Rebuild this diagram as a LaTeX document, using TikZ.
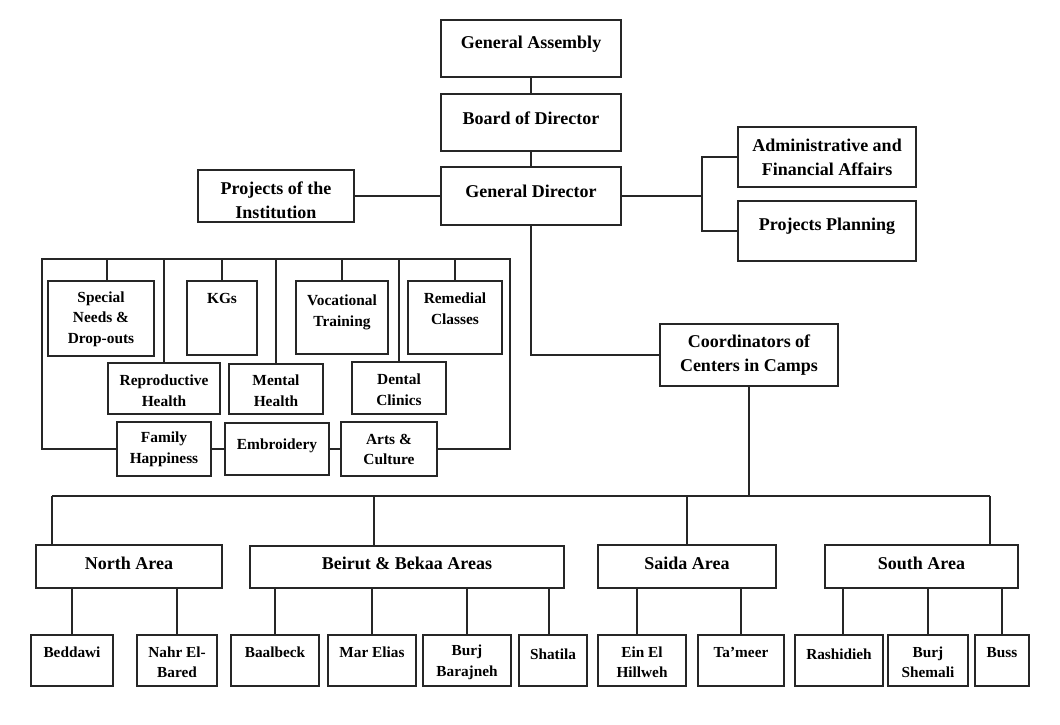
\documentclass[tikz,border=0pt]{standalone}
\usepackage{fontspec}
\setmainfont{Liberation Serif}
\newcommand\bx[8]{%
 \pgfmathsetmacro\bxw{#4-#2}\pgfmathsetmacro\bxh{#5-#3}%
 \pgfmathsetmacro\bxx{(#2+#4)/2}\pgfmathsetmacro\bxy{(#3+#5)/2}%
 \node[boxst, minimum width=\bxw pt, minimum height=\bxh pt] (#1) at (\bxx,\bxy) {};
 \node[txt,#6] (#1t) at (\bxx,#7) {#8};}
\begin{document}
\begin{tikzpicture}[x=1pt,y=-1pt,
  boxst/.style={draw=black!85, line width=1.7pt, inner sep=0pt, outer sep=0pt, fill=white},
  txt/.style={inner sep=0pt, align=center, yshift=-1.5pt},
  big/.style={font=\fontsize{18}{23.5}\selectfont\bfseries},
  mid/.style={font=\fontsize{15.4}{20.7}\selectfont\bfseries},
  sml/.style={font=\fontsize{15.3}{20.5}\selectfont\bfseries},
  ln/.style={draw=black!85, line width=1.7pt}]
\useasboundingbox[fill=white] (0,0) rectangle (1060,724);
% top hierarchy
\bx{GA}{441}{20}{621}{77}{big}{43}{General Assembly}
\bx{BD}{441}{94}{621}{151}{big}{117}{Board of Director}
\bx{GD}{441}{167}{621}{225}{big}{190}{General Director}
\bx{PI}{198}{170}{354}{222}{big}{199}{Projects of the\\Institution}
\bx{AF}{738}{127}{916}{187}{big}{156}{Administrative and\\Financial Affairs}
\bx{PP}{738}{201}{916}{261}{big}{225}{Projects Planning}
\bx{CC}{660}{324}{838}{386}{big}{353.5}{Coordinators of\\Centers in Camps}
% projects frame
\bx{SN}{48}{281}{154}{356}{mid}{317.5}{Special\\Needs \&\\Drop-outs}
\bx{KG}{187}{281}{257}{355}{mid}{297}{KGs}
\bx{VT}{296}{281}{388}{354}{mid}{311}{Vocational\\Training}
\bx{RC}{408}{281}{502}{354}{mid}{307}{Remedial\\Classes}
\bx{RH}{108}{363}{220}{414}{mid}{389.5}{Reproductive\\Health}
\bx{MH}{229}{364}{323}{414}{mid}{389.5}{Mental\\Health}
\bx{DC}{352}{362}{446}{414}{mid}{388}{Dental\\Clinics}
\bx{FH}{117}{422}{211}{476}{mid}{448}{Family\\Happiness}
\bx{EM}{225}{423}{329}{475}{mid}{444}{Embroidery}
\bx{AC}{341}{422}{437}{476}{mid}{448}{Arts \&\\Culture}
% areas
\bx{NA}{36}{545}{222}{588}{big}{562}{North Area}
\bx{BB}{250}{546}{564}{588}{big}{562}{Beirut \& Bekaa Areas}
\bx{SA}{598}{545}{776}{588}{big}{562}{Saida Area}
\bx{SO}{825}{545}{1018}{588}{big}{562}{South Area}
% camps
\bx{BE}{31}{635}{113}{686}{sml}{651}{Beddawi}
\bx{NB}{137}{635}{217}{686}{sml}{661}{Nahr El-\\Bared}
\bx{BA}{231}{635}{319}{686}{sml}{651}{Baalbeck}
\bx{ME}{328}{635}{416}{686}{sml}{651}{Mar Elias}
\bx{BJ}{423}{635}{511}{686}{sml}{661}{Burj\\Barajneh}
\bx{SH}{519}{635}{587}{686}{sml}{653}{Shatila}
\bx{EH}{598}{635}{686}{686}{sml}{661}{Ein El\\Hillweh}
\bx{TA}{698}{635}{784}{686}{sml}{651}{Ta’meer}
\bx{RA}{795}{635}{883}{686}{sml}{653}{Rashidieh}
\bx{BS}{888}{635}{968}{686}{sml}{661}{Burj\\Shemali}
\bx{BU}{975}{635}{1029}{686}{sml}{651}{Buss}
% coordinates
\coordinate (jr) at (702,196);
\coordinate (frTL) at (42,259);
\coordinate (frTR) at (510,259);
\coordinate (tSN) at (107,259);
\coordinate (bL) at (52,496);
\coordinate (bR) at (990,496);
\coordinate (bB) at (374,496);
\coordinate (dSH) at (549,0);
\coordinate (dEH) at (637,0);
\coordinate (dRA) at (843,0);
% top connectors
\draw[ln] (GA.south) -- (BD.north);
\draw[ln] (BD.south) -- (GD.north);
\draw[ln] (PI.east) -- (PI.east -| GD.west);
\draw[ln] (GD.east) -- (jr);
\draw[ln] (AF.west) -| (jr);
\draw[ln] (PP.west) -| (jr);
\draw[ln] (GD.south) |- (CC.west);
% frame
\draw[ln] (FH.west) -| (frTL) -- (frTR) |- (AC.east);
\draw[ln] (FH.east) -- (FH.east -| EM.west);
\draw[ln] (EM.east) -- (EM.east -| AC.west);
\draw[ln] (tSN) -- (tSN |- SN.north);
\draw[ln] (RH.north) -- (RH.north |- frTL);
\draw[ln] (KG.north) -- (KG.north |- frTL);
\draw[ln] (MH.north) -- (MH.north |- frTL);
\draw[ln] (VT.north) -- (VT.north |- frTL);
\draw[ln] (DC.north) -- (DC.north |- frTL);
\draw[ln] (RC.north) -- (RC.north |- frTL);
% bus
\draw[ln] (CC.south) -- (CC.south |- bL);
\draw[ln] (bL) -- (bR);
\draw[ln] (bL) -- (bL |- NA.north);
\draw[ln] (bB) -- (bB |- BB.north);
\draw[ln] (SA.north) -- (SA.north |- bL);
\draw[ln] (bR) -- (bR |- SO.north);
% area to camps
\draw[ln] (BE.north) -- (BE.north |- NA.south);
\draw[ln] (NB.north) -- (NB.north |- NA.south);
\draw[ln] (BA.north) -- (BA.north |- BB.south);
\draw[ln] (ME.north) -- (ME.north |- BB.south);
\draw[ln] (BJ.north) -- (BJ.north |- BB.south);
\draw[ln] (dSH |- SH.north) -- (dSH |- BB.south);
\draw[ln] (dEH |- EH.north) -- (dEH |- SA.south);
\draw[ln] (TA.north) -- (TA.north |- SA.south);
\draw[ln] (dRA |- RA.north) -- (dRA |- SO.south);
\draw[ln] (BS.north) -- (BS.north |- SO.south);
\draw[ln] (BU.north) -- (BU.north |- SO.south);
\end{tikzpicture}
\end{document}
